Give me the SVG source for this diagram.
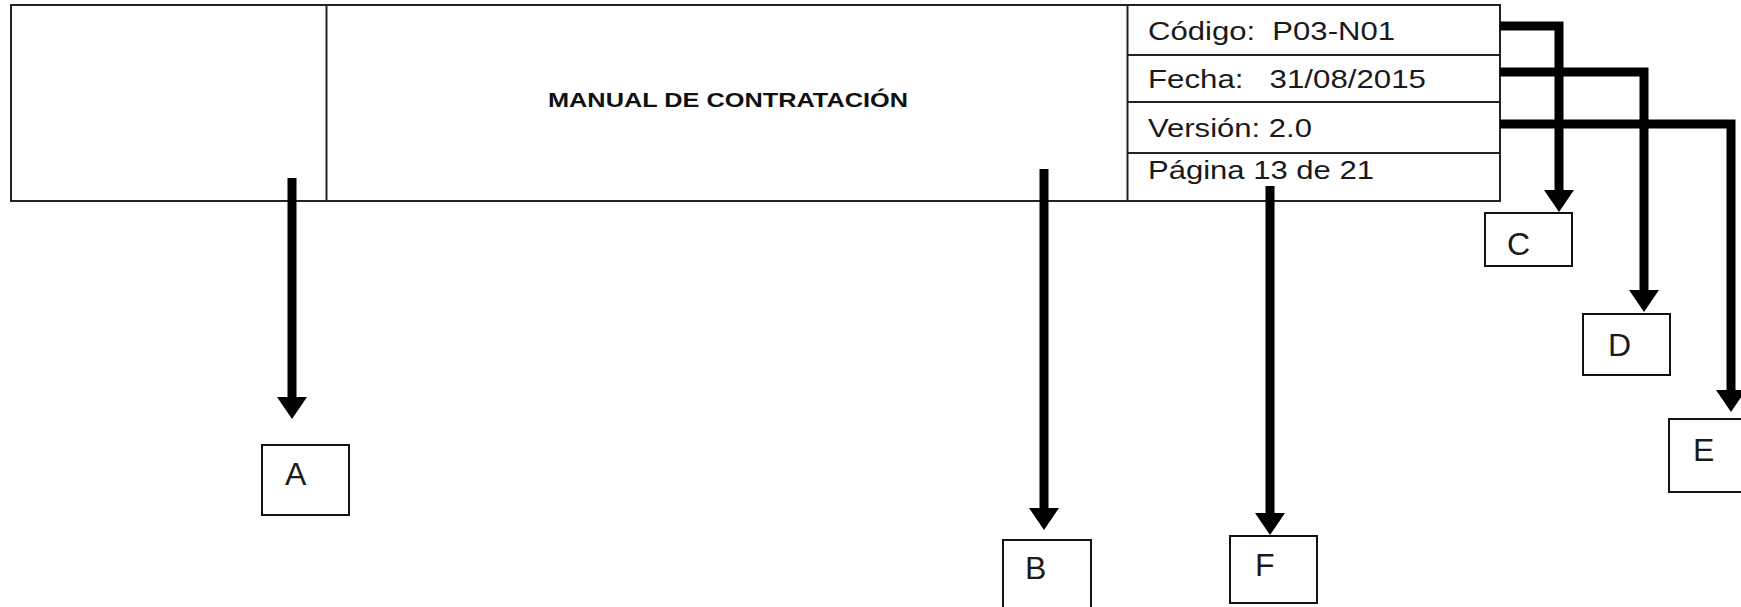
<svg xmlns="http://www.w3.org/2000/svg" width="1741" height="607" viewBox="0 0 1741 607">
  <defs>
    <marker id="head" markerUnits="userSpaceOnUse" markerWidth="22" markerHeight="30" viewBox="0 0 22 30" refX="6" refY="15" orient="auto">
      <path d="M0,0 L22,15 L0,30 Z" fill="#000"/>
    </marker>
    <style>
      .frame { fill: #fff; stroke: #222; stroke-width: 2; }
      .rule { stroke: #222; stroke-width: 2; fill: none; }
      .box { fill: #fff; stroke: #111; stroke-width: 2; }
      .conn { fill: none; stroke: #000; stroke-width: 9; stroke-linejoin: miter; marker-end: url(#head); }
      .cell { font-family: "Liberation Sans", Arial, sans-serif; font-size: 25px; fill: #1a1a1a; white-space: pre; }
      .title { font-family: "Liberation Sans", Arial, sans-serif; font-size: 21px; font-weight: bold; fill: #111; }
      .lbl { font-family: "Liberation Sans", Arial, sans-serif; font-size: 32px; fill: #1a1a1a; }
    </style>
  </defs>
  <rect width="1741" height="607" fill="#fff"/>

  <g id="header">
    <rect class="frame" x="11" y="5" width="1489" height="196"/>
    <line class="rule" x1="326.5" y1="5" x2="326.5" y2="201"/>
    <line class="rule" x1="1127.5" y1="5" x2="1127.5" y2="201"/>
    <line class="rule" x1="1127.5" y1="55" x2="1500" y2="55"/>
    <line class="rule" x1="1127.5" y1="102" x2="1500" y2="102"/>
    <line class="rule" x1="1127.5" y1="153" x2="1500" y2="153"/>
    <text class="title" x="548" y="107" textLength="360" lengthAdjust="spacingAndGlyphs">MANUAL DE CONTRATACIÓN</text>
    <text class="cell" x="1148" y="40" textLength="247" lengthAdjust="spacingAndGlyphs" xml:space="preserve">Código:  P03-N01</text>
    <text class="cell" x="1148" y="88" textLength="278" lengthAdjust="spacingAndGlyphs" xml:space="preserve">Fecha:   31/08/2015</text>
    <text class="cell" x="1148" y="137" textLength="164" lengthAdjust="spacingAndGlyphs">Versión: 2.0</text>
    <text class="cell" x="1148" y="179" textLength="226" lengthAdjust="spacingAndGlyphs">Página 13 de 21</text>
  </g>

  <g id="connectors">
    <path class="conn" d="M292,178 V403"/>
    <path class="conn" d="M1044,169 V514"/>
    <path class="conn" d="M1270,186 V519"/>
    <path class="conn" d="M1500,26 H1559 V196"/>
    <path class="conn" d="M1500,72 H1644 V296"/>
    <path class="conn" d="M1500,124 H1731 V396"/>
  </g>

  <g id="node-A">
    <rect class="box" x="262" y="445" width="87" height="70"/>
    <text class="lbl" x="285" y="485">A</text>
  </g>
  <g id="node-B">
    <rect class="box" x="1003" y="540" width="88" height="80"/>
    <text class="lbl" x="1025" y="579">B</text>
  </g>
  <g id="node-F">
    <rect class="box" x="1230" y="536" width="87" height="67"/>
    <text class="lbl" x="1255" y="576">F</text>
  </g>
  <g id="node-C">
    <rect class="box" x="1485" y="213" width="87" height="53"/>
    <text class="lbl" x="1507" y="255">C</text>
  </g>
  <g id="node-D">
    <rect class="box" x="1583" y="314" width="87" height="61"/>
    <text class="lbl" x="1608" y="356">D</text>
  </g>
  <g id="node-E">
    <rect class="box" x="1669" y="419" width="90" height="73"/>
    <text class="lbl" x="1693" y="461">E</text>
  </g>
</svg>
